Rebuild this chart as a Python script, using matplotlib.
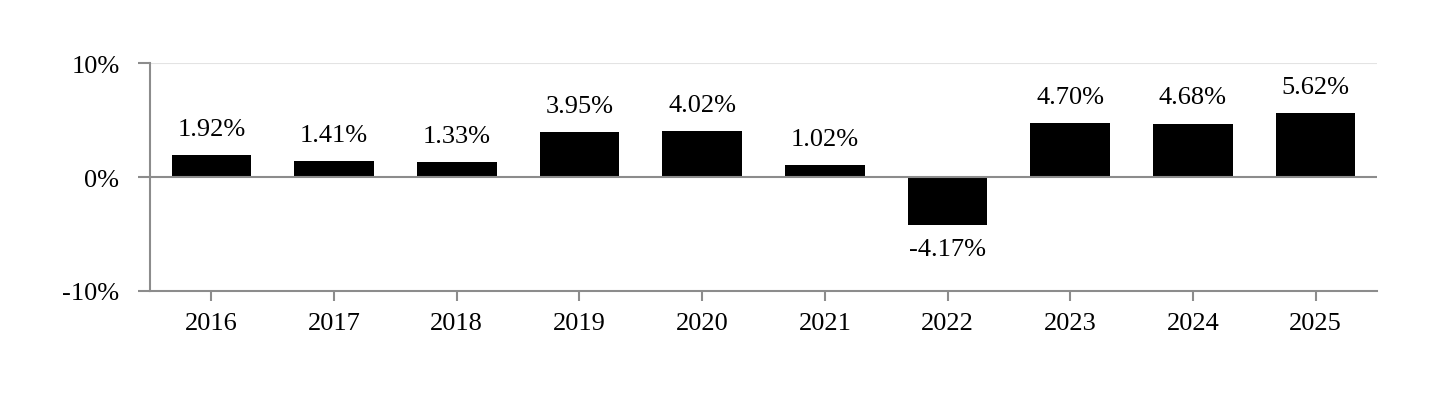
import numpy as np
import matplotlib.pyplot as plt

years = ["2016", "2017", "2018", "2019", "2020", "2021", "2022", "2023", "2024", "2025"]
returns = [1.92, 1.41, 1.33, 3.95, 4.02, 1.02, -4.17, 4.70, 4.68, 5.62]
yticks = [-10, 0, 10]
ytick_labels = ["-10%", "0%", "10%"]

plt.rcParams['font.family'] = ['Liberation Serif', 'DejaVu Serif']

fig = plt.figure(figsize=(14.4, 4.02), dpi=100)
ax = fig.add_axes([0.1042, 0.2737, 0.852, 0.567])

x = np.arange(len(years))
bars = ax.bar(x, returns, width=0.65, color="black", zorder=3)

ax.set_xlim(-0.5, len(years) - 0.5)
ax.set_ylim(-10, 10)
ax.set_yticks(yticks)
ax.set_yticklabels(ytick_labels)
ax.set_xticks(x)
ax.set_xticklabels(years)

ax.axhline(10, color="#e3e3e3", lw=1.5, zorder=1)
ax.axhline(0, color="#8c8c8c", lw=1.5, zorder=4)

for s in ["top", "right"]:
    ax.spines[s].set_visible(False)
for s in ["left", "bottom"]:
    ax.spines[s].set_color("#8c8c8c")
    ax.spines[s].set_linewidth(1.5)

ax.tick_params(axis="y", length=9, width=1.5, color="#8c8c8c", labelsize=19, pad=13)
ax.tick_params(axis="x", length=7, width=1.5, color="#8c8c8c", labelsize=19, pad=8)

for xi, v in zip(x, returns):
    if v >= 0:
        ax.annotate(f"{v:.2f}%", (xi, v), xytext=(0, 11), textcoords="offset points",
                    ha="center", va="bottom", fontsize=19)
    else:
        ax.annotate(f"{v:.2f}%", (xi, v), xytext=(0, -10), textcoords="offset points",
                    ha="center", va="top", fontsize=19)

fig.savefig("out.png", dpi=100)
